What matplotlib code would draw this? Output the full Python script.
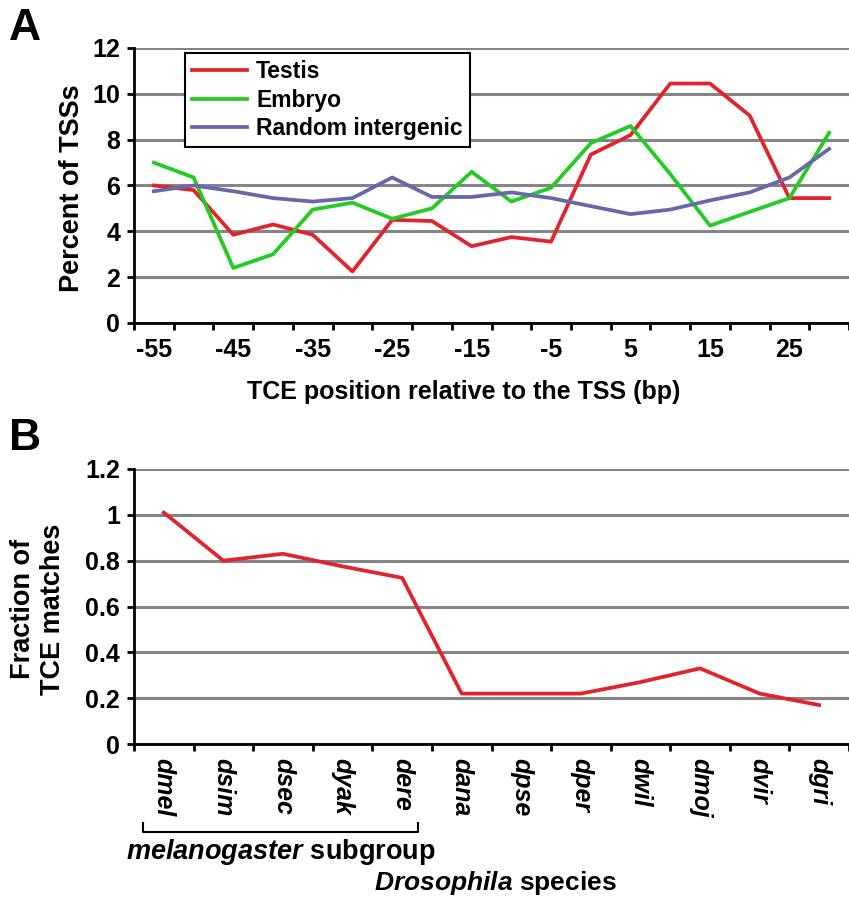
import numpy as np
import matplotlib
matplotlib.use("Agg")
import matplotlib.pyplot as plt
from matplotlib import rcParams

rcParams['font.family'] = 'Liberation Sans'
rcParams['font.weight'] = 'bold'
rcParams['mathtext.fontset'] = 'custom'
rcParams['mathtext.it'] = 'Liberation Sans:italic:bold'
rcParams['mathtext.rm'] = 'Liberation Sans:bold'

# panel A data
positions = [-55, -50, -45, -40, -35, -30, -25, -20, -15, -10, -5, 0, 5, 10, 15, 20, 25, 30]
testis = [6.0, 5.8, 3.85, 4.3, 3.85, 2.25, 4.5, 4.45, 3.35, 3.75, 3.55, 7.35, 8.2, 10.45, 10.45, 9.05, 5.45, 5.45]
embryo = [7.0, 6.35, 2.4, 3.0, 4.95, 5.25, 4.55, 5.0, 6.6, 5.3, 5.9, 7.85, 8.6, 6.5, 4.25, 4.85, 5.45, 8.3]
random_ig = [5.75, 6.0, 5.75, 5.45, 5.3, 5.45, 6.35, 5.5, 5.5, 5.7, 5.45, 5.1, 4.75, 4.95, 5.35, 5.7, 6.35, 7.6]
a_labels = [-55, -45, -35, -25, -15, -5, 5, 15, 25]

# panel B data
species = ['dmel', 'dsim', 'dsec', 'dyak', 'dere', 'dana', 'dpse', 'dper', 'dwil', 'dmoj', 'dvir', 'dgri']
fraction = [1.01, 0.80, 0.83, 0.775, 0.725, 0.22, 0.22, 0.22, 0.27, 0.33, 0.22, 0.17]
subgroup = ['dmel', 'dsim', 'dsec', 'dyak', 'dere']

RED = '#e3232b'
GREEN = '#22cc22'
BLUE = '#6868a8'
GRID = '#858585'
FS = 18
LW = 2.7

fig = plt.figure(figsize=(8.49, 9.0), dpi=100)
W, H = 849.0, 900.0


def style_axis(ax):
    for s in ['top', 'right']:
        ax.spines[s].set_visible(False)
    for s in ['left', 'bottom']:
        ax.spines[s].set_linewidth(2)
    ax.yaxis.grid(True, color=GRID, linewidth=2.2)
    ax.set_axisbelow(True)
    ax.tick_params(axis='y', direction='out', length=5, width=2, pad=5, labelsize=FS)
    ax.tick_params(axis='x', which='major', direction='out', length=5, width=2, labelbottom=False)
    ax.tick_params(axis='x', which='minor', length=0, labelsize=FS)


# ---- panel A ----
axA = fig.add_axes([134 / W, 1 - 323 / H, 1 - 134 / W, (323 - 48) / H])
axA.plot(positions, testis, color=RED, lw=LW, label='Testis')
axA.plot(positions, embryo, color=GREEN, lw=LW, label='Embryo')
axA.plot(positions, random_ig, color=BLUE, lw=LW, label='Random intergenic')
axA.set_xlim(positions[0] - 2.5, positions[-1] + 1.75)
axA.set_ylim(0, 12)
axA.set_yticks(np.arange(0, 13, 2))
axA.set_xticks(np.arange(positions[0] - 2.5, positions[-1] + 3, 5))
axA.set_xticks(a_labels, minor=True)
axA.set_xticklabels([str(v) for v in a_labels], minor=True)
style_axis(axA)
axA.tick_params(axis='x', which='minor', pad=11)
leg = axA.legend(loc='upper left', bbox_to_anchor=(51 / 715, 1 - 5 / 275), fontsize=16.5,
                 frameon=True, fancybox=False, edgecolor='black', handlelength=2.4,
                 handletextpad=0.4, borderpad=0.3, labelspacing=0.25, borderaxespad=0)
leg.get_frame().set_linewidth(1.5)
leg.get_frame().set_alpha(1)

fig.text(72 / W, 1 - 188 / H, 'Percent of TSSs', rotation=90, ha='center', va='center', fontsize=19.5)
fig.text(464 / W, 1 - 392 / H, 'TCE position relative to the TSS (bp)', ha='center', va='center', fontsize=18)
fig.text(9 / W, 1 - 29 / H, 'A', ha='left', va='center', fontsize=32)

# ---- panel B ----
axB = fig.add_axes([134 / W, 1 - 744 / H, 1 - 134 / W, (744 - 469) / H])
idx = np.arange(len(species))
axB.plot(idx, fraction, color=RED, lw=LW)
axB.set_xlim(-0.5, len(species) - 0.6)
axB.set_ylim(0, 1.2)
axB.set_yticks([0, 0.2, 0.4, 0.6, 0.8, 1.0, 1.2])
axB.set_yticklabels(['0', '0.2', '0.4', '0.6', '0.8', '1', '1.2'])
axB.set_xticks(np.arange(-0.5, len(species), 1))
axB.set_xticks(idx, minor=True)
axB.set_xticklabels(species, minor=True, rotation=270, style='italic', fontsize=20.5)
style_axis(axB)
axB.tick_params(axis='x', which='minor', pad=10)

# bracket under melanogaster subgroup
i0 = species.index(subgroup[0]) - 0.35
i1 = species.index(subgroup[-1]) + 0.27
tr = axB.get_xaxis_transform()
axB.plot([i0, i0, i1, i1], [-0.287, -0.32, -0.32, -0.287], color='black', lw=1.5,
         transform=tr, clip_on=False)
axB.text((i0 + i1) / 2, -0.393, r'$\mathit{melanogaster}$ subgroup', transform=tr,
         ha='center', va='center', fontsize=19.5)

fig.text(38 / W, 1 - 609 / H, 'Fraction of\nTCE matches', rotation=90, ha='center', va='center',
         fontsize=19.5, linespacing=1.15)
fig.text(495 / W, 1 - 883 / H, r'$\mathit{Drosophila}$ species', ha='center', va='center', fontsize=19)
fig.text(9 / W, 1 - 439 / H, 'B', ha='left', va='center', fontsize=32)

fig.savefig('out.png', dpi=100)
